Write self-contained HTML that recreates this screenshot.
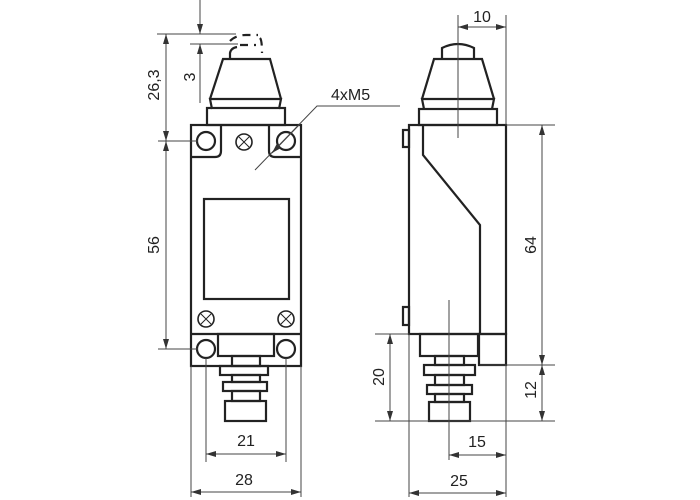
<!DOCTYPE html>
<html><head><style>body{margin:0;background:#fff}svg{display:block}</style></head><body>
<svg width="700" height="500" viewBox="0 0 700 500" xmlns="http://www.w3.org/2000/svg" font-family="Liberation Sans, sans-serif">
<defs>
<marker id="a" viewBox="0 0 10 6" refX="10" refY="3" markerWidth="10" markerHeight="6" markerUnits="userSpaceOnUse" orient="auto-start-reverse"><path d="M0,0 L10,3 L0,6 z" fill="#333"/></marker>
</defs>
<g stroke="#222" stroke-width="2.2" fill="none">
<!-- LEFT VIEW -->
<rect x="191" y="125" width="110" height="241"/>
<path d="M191,157 H215 Q221,157 221,151 V125"/>
<path d="M301,157 H275 Q269,157 269,151 V125"/>
<line x1="191" y1="334" x2="301" y2="334"/>
<circle cx="206" cy="141" r="9"/><circle cx="286" cy="141" r="9"/>
<circle cx="206" cy="349" r="9"/><circle cx="286" cy="349" r="9"/>
<rect x="204" y="199" width="85" height="100"/>
<rect x="218" y="334" width="56" height="22"/>
<rect x="232" y="356" width="28" height="10"/>
<rect x="220" y="366" width="48" height="9"/>
<rect x="232" y="375" width="28" height="7"/>
<rect x="223" y="382" width="44" height="9"/>
<rect x="232" y="391" width="28" height="10"/>
<rect x="225" y="401" width="41" height="20"/>
<rect x="207" y="108" width="78" height="17"/>
<path d="M212,109 L210,99 H281 L279,109"/>
<path d="M210,99 L223,59 H270 L281,99"/>
<path d="M230,59 V53 Q231,48 237,47"/>
<g stroke-dasharray="8,6"><path d="M230,41 Q236,35 246,35 H258"/><path d="M240,45 H256"/><path d="M260,38 Q262,40 262,53"/></g>
<!-- RIGHT VIEW -->
<rect x="409" y="125" width="97" height="209"/>
<path d="M423,125 V155 L480,225 V334"/>
<rect x="479" y="334" width="27" height="31"/>
<rect x="403" y="130" width="6" height="17"/>
<rect x="403" y="307" width="6" height="18"/>
<rect x="419" y="109" width="78" height="16"/>
<path d="M424,109 L422,99 H494 L492,109"/>
<path d="M422,99 L434,59 H482 L494,99"/>
<path d="M442,59 V48 Q458,40 474,48 V59"/>
<rect x="420" y="334" width="58" height="22"/>
<rect x="435" y="356" width="29" height="9"/>
<rect x="424" y="365" width="51" height="10"/>
<rect x="435" y="375" width="29" height="10"/>
<rect x="427" y="385" width="45" height="9"/>
<rect x="435" y="394" width="29" height="8"/>
<rect x="429" y="402" width="41" height="19"/>
</g>
<!-- screws -->
<g stroke="#222" stroke-width="1.6" fill="none">
<circle cx="244" cy="142" r="8"/><circle cx="206" cy="319" r="8"/><circle cx="286" cy="319" r="8"/>
<path d="M239,137 L249,147 M249,137 L239,147 M201,314 L211,324 M211,314 L201,324 M281,314 L291,324 M291,314 L281,324" stroke-width="1"/>
</g>
<!-- dimension lines -->
<g stroke="#444" stroke-width="1" fill="none">
<line x1="157" y1="34" x2="236" y2="34"/><line x1="190" y1="44" x2="238" y2="44"/>
<line x1="200" y1="0" x2="200" y2="34" marker-end="url(#a)"/>
<line x1="200" y1="103" x2="200" y2="44" marker-end="url(#a)"/>
<line x1="166" y1="34" x2="166" y2="141" marker-start="url(#a)" marker-end="url(#a)"/>
<line x1="158" y1="141" x2="198" y2="141"/>
<line x1="166" y1="141" x2="166" y2="349" marker-start="url(#a)" marker-end="url(#a)"/>
<line x1="158" y1="349" x2="198" y2="349"/>
<path d="M400,106 H317 L255,170"/>
<line x1="300" y1="124" x2="272" y2="153" marker-end="url(#a)"/>
<line x1="206" y1="358" x2="206" y2="462"/><line x1="286" y1="358" x2="286" y2="462"/>
<line x1="206" y1="454" x2="286" y2="454" marker-start="url(#a)" marker-end="url(#a)"/>
<line x1="191" y1="366" x2="191" y2="497"/><line x1="301" y1="366" x2="301" y2="497"/>
<line x1="191" y1="492" x2="301" y2="492" marker-start="url(#a)" marker-end="url(#a)"/>
<line x1="458" y1="15" x2="458" y2="138"/>
<line x1="506" y1="15" x2="506" y2="125"/>
<line x1="458" y1="27" x2="506" y2="27" marker-start="url(#a)" marker-end="url(#a)"/>
<line x1="506" y1="125" x2="555" y2="125"/>
<line x1="542" y1="125" x2="542" y2="365" marker-start="url(#a)" marker-end="url(#a)"/>
<line x1="480" y1="365" x2="555" y2="365"/>
<line x1="542" y1="365" x2="542" y2="421" marker-start="url(#a)" marker-end="url(#a)"/>
<line x1="375" y1="421" x2="555" y2="421"/>
<line x1="375" y1="334" x2="409" y2="334"/>
<line x1="390" y1="334" x2="390" y2="421" marker-start="url(#a)" marker-end="url(#a)"/>
<line x1="449" y1="300" x2="449" y2="460"/>
<line x1="449" y1="455" x2="506" y2="455" marker-start="url(#a)" marker-end="url(#a)"/>
<line x1="409" y1="334" x2="409" y2="497"/><line x1="506" y1="365" x2="506" y2="497"/>
<line x1="409" y1="493" x2="506" y2="493" marker-start="url(#a)" marker-end="url(#a)"/>
</g>
<g fill="#222" font-size="16">
<text x="331" y="100">4xM5</text>
<text x="246" y="446" text-anchor="middle">21</text>
<text x="244" y="485" text-anchor="middle">28</text>
<text x="482" y="22" text-anchor="middle">10</text>
<text x="477" y="447" text-anchor="middle">15</text>
<text x="459" y="486" text-anchor="middle">25</text>
<text transform="translate(159,85) rotate(-90)" text-anchor="middle">26,3</text>
<text transform="translate(195,77) rotate(-90)" text-anchor="middle">3</text>
<text transform="translate(159,245) rotate(-90)" text-anchor="middle">56</text>
<text transform="translate(536,245) rotate(-90)" text-anchor="middle">64</text>
<text transform="translate(536,390) rotate(-90)" text-anchor="middle">12</text>
<text transform="translate(384,377) rotate(-90)" text-anchor="middle">20</text>
</g>
</svg>
</body></html>
